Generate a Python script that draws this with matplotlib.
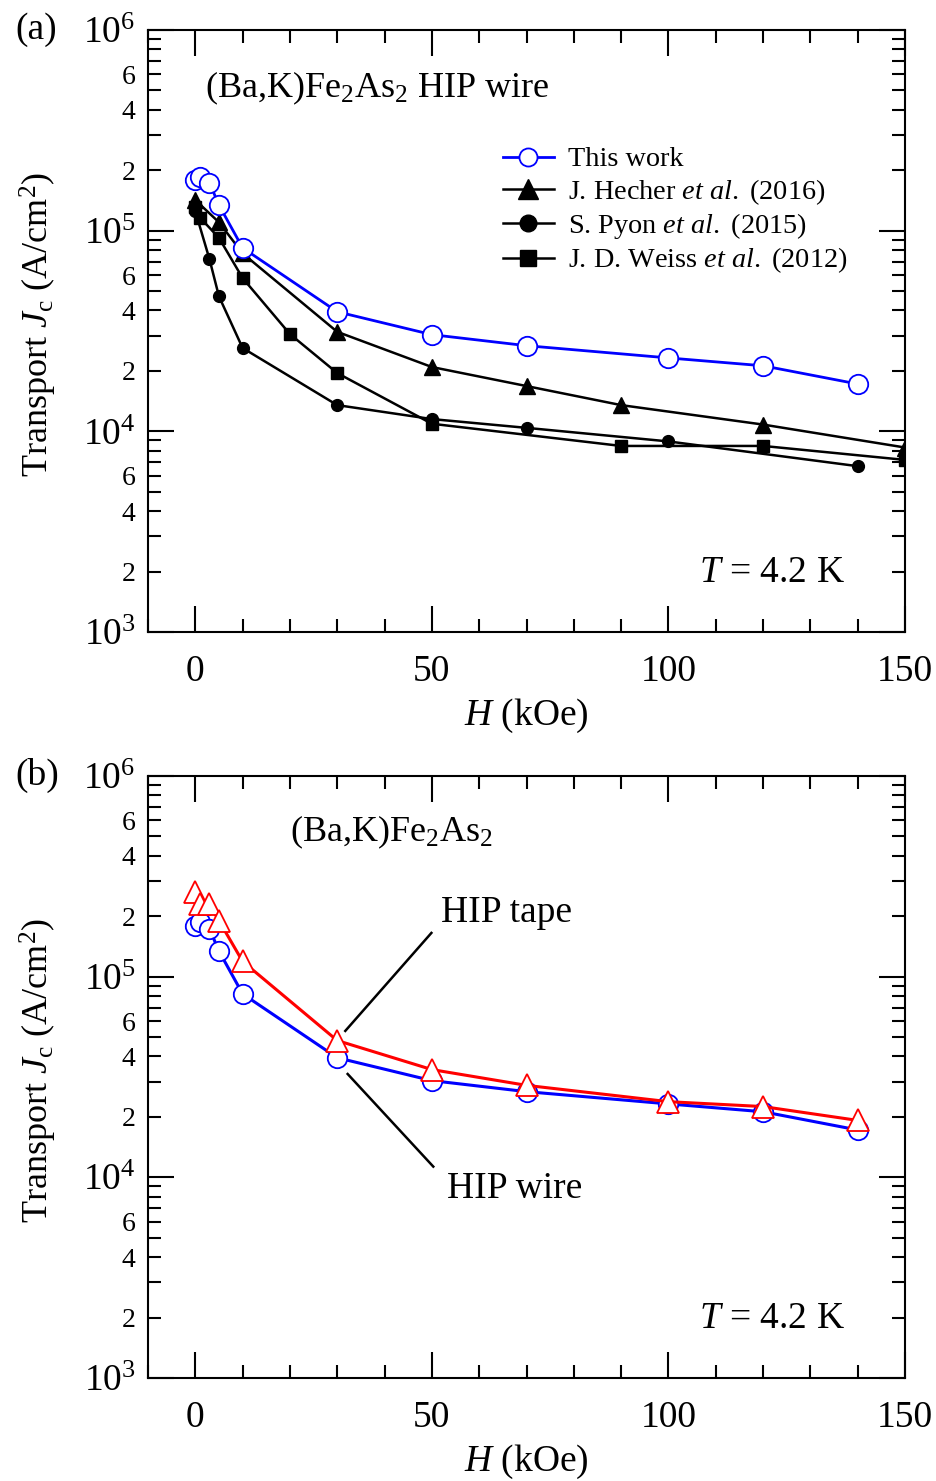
import numpy as np
import matplotlib
matplotlib.use("Agg")
import matplotlib.pyplot as plt
from matplotlib.lines import Line2D
from matplotlib.ticker import LogLocator, FuncFormatter, MultipleLocator

plt.rcParams['font.family'] = ['Liberation Serif', 'DejaVu Serif']
plt.rcParams['mathtext.fontset'] = 'custom'
plt.rcParams['mathtext.rm'] = 'Liberation Serif'
plt.rcParams['mathtext.it'] = 'Liberation Serif:italic'
plt.rcParams['mathtext.bf'] = 'Liberation Serif:bold'

# --- data (H in kOe, Jc in A/cm^2) ---
h_this = [0, 1, 3, 5, 10, 30, 50, 70, 100, 120, 140]
jc_this = [1.79e5, 1.86e5, 1.73e5, 1.34e5, 8.2e4, 3.94e4, 3.03e4, 2.67e4, 2.32e4, 2.12e4, 1.72e4]

h_hecher = [0, 5, 10, 30, 50, 70, 90, 120, 150]
jc_hecher = [1.42e5, 1.10e5, 7.7e4, 3.13e4, 2.09e4, 1.68e4, 1.35e4, 1.08e4, 8.3e3]

h_pyon = [0, 3, 5, 10, 30, 50, 70, 100, 140]
jc_pyon = [1.25e5, 7.2e4, 4.7e4, 2.6e4, 1.35e4, 1.15e4, 1.04e4, 8.9e3, 6.7e3]

h_weiss = [0, 1, 5, 10, 20, 30, 50, 90, 120, 150]
jc_weiss = [1.31e5, 1.16e5, 9.2e4, 5.8e4, 3.05e4, 1.95e4, 1.09e4, 8.45e3, 8.45e3, 7.2e3]

h_tape = [0, 1, 3, 5, 10, 30, 50, 70, 100, 120, 140]
jc_tape = [2.64e5, 2.29e5, 2.29e5, 1.9e5, 1.19e5, 4.8e4, 3.44e4, 2.87e4, 2.38e4, 2.25e4, 1.92e4]

FS = 27
BLUE = '#0000ff'
RED = '#ff0000'


def log_label(v, pos):
    e = np.log10(v)
    if abs(e - round(e)) < 1e-6:
        return r'$10^{%d}$' % round(e)
    return ''


def minor_label(v, pos):
    m = v / 10 ** np.floor(np.log10(v) + 1e-9)
    m = int(round(m))
    return str(m) if m in (2, 4, 6) else ''


def setup_axes(ax):
    ax.set_xlim(-10, 150)
    ax.set_yscale('log')
    ax.set_ylim(1e3, 1e6)
    ax.xaxis.set_major_locator(MultipleLocator(50))
    ax.xaxis.set_minor_locator(MultipleLocator(10))
    ax.yaxis.set_major_locator(LogLocator(base=10))
    ax.yaxis.set_minor_locator(LogLocator(base=10, subs=np.arange(2, 10)))
    ax.yaxis.set_major_formatter(FuncFormatter(log_label))
    ax.yaxis.set_minor_formatter(FuncFormatter(minor_label))
    ax.tick_params(which='both', direction='in', top=True, right=True, width=1.5)
    ax.tick_params(which='major', length=19, labelsize=FS)
    ax.tick_params(which='minor', length=9.5, labelsize=20)
    ax.tick_params(axis='x', which='both', pad=16)
    ax.tick_params(axis='y', which='both', pad=9)
    for s in ax.spines.values():
        s.set_linewidth(1.5)
    ax.set_xlabel(r'$H$ (kOe)', fontsize=FS, labelpad=6)
    ax.set_ylabel(r'Transport $J_{\rm c}$ (A/cm$^2$)', fontsize=26)
    ax.yaxis.set_label_coords(-0.117, 0.51)
    ax.text(0.921, 0.098, r'$T$ = 4.2 K', transform=ax.transAxes, fontsize=FS,
            ha='right', va='center')


fig = plt.figure(figsize=(9.36, 14.81), dpi=100)
ax1 = fig.add_axes([0.1581, 0.5733, 0.8088, 0.4065])
ax2 = fig.add_axes([0.1581, 0.0696, 0.8088, 0.4065])

# (a) comparison with earlier wires
ax1.plot(h_hecher, jc_hecher, '-^', color='black', lw=1.8, ms=11, zorder=3)
ax1.plot(h_pyon, jc_pyon, '-o', color='black', lw=1.8, ms=8.5, zorder=3)
ax1.plot(h_weiss, jc_weiss, '-s', color='black', lw=1.8, ms=8.5, zorder=3)
ax1.plot(h_this, jc_this, '-o', color=BLUE, lw=2, ms=14, mfc='white', mec=BLUE, mew=1.3, zorder=4)
setup_axes(ax1)

leg_handles = [
    Line2D([], [], color=BLUE, lw=2, marker='o', ms=13, mfc='white', mec=BLUE, mew=1.3),
    Line2D([], [], color='black', lw=1.8, marker='^', ms=14),
    Line2D([], [], color='black', lw=1.8, marker='o', ms=12),
    Line2D([], [], color='black', lw=1.8, marker='s', ms=11),
]
leg_labels = ['This work', 'J. Hecher $et$ $al.$ (2016)', 'S. Pyon $et$ $al.$ (2015)',
              'J. D. Weiss $et$ $al.$ (2012)']
ax1.legend(leg_handles, leg_labels, loc='upper left', bbox_to_anchor=(0.469, 0.806),
           frameon=False, fontsize=20.3, borderpad=0, borderaxespad=0, handlelength=1.8,
           handletextpad=0.5, labelspacing=0.16)
ax1.text(0.0753, 0.9037, r'(Ba,K)Fe$_2$As$_2$ HIP wire', transform=ax1.transAxes,
         fontsize=26, ha='left', va='center')

# (b) wire vs tape
ax2.plot(h_this, jc_this, '-o', color=BLUE, lw=2.2, ms=14, mfc='white', mec=BLUE, mew=1.3, zorder=3)
ax2.plot(h_tape, jc_tape, '-^', color=RED, lw=2.2, ms=16, mfc='white', mec=RED, mew=1.3, zorder=4)
setup_axes(ax2)
ax2.text(0.1876, 0.9055, r'(Ba,K)Fe$_2$As$_2$', transform=ax2.transAxes,
         fontsize=26, ha='left', va='center')
ax2.plot([49.9, 31.7], [1.65e5, 5.36e4], color='black', lw=1.8)
ax2.plot([50.3, 32.2], [1.13e4, 3.27e4], color='black', lw=1.8)
ax2.text(65.8, 2.07e5, 'HIP tape', fontsize=27, ha='center', va='center')
ax2.text(67.5, 8.75e3, 'HIP wire', fontsize=27, ha='center', va='center')

fig.text(0.016, 1 - 30 / 1481, '(a)', fontsize=27, ha='left', va='center')
fig.text(0.016, 1 - 775 / 1481, '(b)', fontsize=27, ha='left', va='center')

fig.savefig('out.png', dpi=100)
